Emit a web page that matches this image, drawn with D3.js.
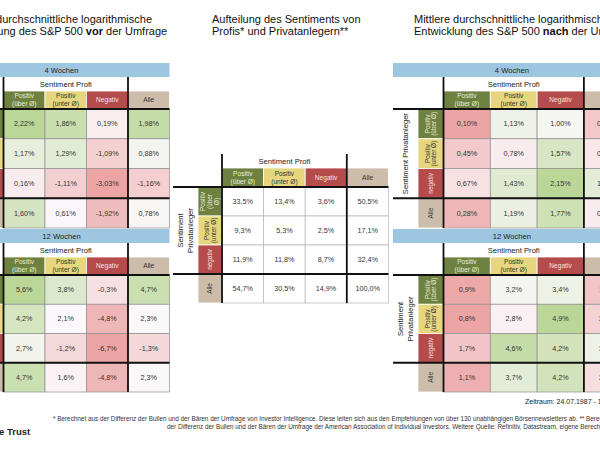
<!DOCTYPE html>
<html><head><meta charset="utf-8">
<script src="https://cdn.jsdelivr.net/npm/d3@7"></script>
<style>
body{margin:0;background:#fff;overflow:hidden;}
svg{display:block;font-family:"Liberation Sans",Arial,Helvetica,sans-serif;}
</style>
</head><body>
<svg id="chart" width="600" height="450"></svg>
<script>
// ---------- DATA ----------
const colLabels = [["Positiv","(über Ø)"],["Positiv","(unter Ø)"],["Negativ"],["Alle"]];
const rowLabels = [["Positiv","(über Ø)"],["Positiv","(unter Ø)"],["negativ"],["Alle"]];
const rowLabelsCenter = [["Positiv","(über","Ø)"],["Positiv","(unter Ø)"],["negativ"],["Alle"]];
const periodLabels = ["4 Wochen","12 Wochen"];
// S&P 500 log. Entwicklung VOR der Umfrage (%)
const vor4w  = [[2.22,1.86,0.19,1.98],[1.17,1.29,-1.09,0.88],[0.16,-1.11,-3.03,-1.16],[1.60,0.61,-1.92,0.78]];
const vor12w = [[5.6,3.8,-0.3,4.7],[4.2,2.1,-4.8,2.3],[2.7,-1.2,-6.7,-1.3],[4.7,1.6,-4.8,2.3]];
// Aufteilung des Sentiments (%)
const split  = [[33.5,13.4,3.6,50.5],[9.3,5.3,2.5,17.1],[11.9,11.8,8.7,32.4],[54.7,30.5,14.9,100.0]];
// S&P 500 log. Entwicklung NACH der Umfrage (%)
const nach4w  = [[0.10,1.13,1.00,0.44],[0.45,0.78,1.57,0.72],[0.67,1.43,2.15,1.34],[0.28,1.19,1.77,0.78]];
const nach12w = [[0.9,3.2,3.4,1.7],[0.8,2.8,4.9,2.0],[1.7,4.6,4.2,3.4],[1.1,3.7,4.2,2.3]];

// ---------- STYLE ----------
const FONT_DARK = "#333";
const headFill = ["#6e8140","#e7d67d","#b64b4b","#cdbcaa"];
const headText = ["#e9ecdc","#333","#f6e2e2","#333"];
const BLUE = "#9dc6e0";
const loc = d3.formatLocale({decimal:",",thousands:".",grouping:[3],currency:["","€"],minus:"-"});
const f2 = v => loc.format(".2f")(v) + "%";
const f1 = v => loc.format(".1f")(v) + "%";

function heat(values){
  const flat = values.flat();
  const [mn,mx] = d3.extent(flat);
  const md = d3.median(flat);
  return d3.scaleLinear().domain([mn,md,mx]).range(["#eca4a4","#fbf8fb","#bad797"]).interpolate(d3.interpolateRgb);
}

const svg = d3.select("#chart");

function multiLine(g, lines, spacing, size, color){
  const n = lines.length;
  lines.forEach((t,i)=>{
    g.append("text").attr("x",0).attr("y",(i-(n-1)/2)*spacing + size*0.35)
      .attr("text-anchor","middle").attr("font-size",size).attr("fill",color).text(t);
  });
}

function drawTable(o){
  const g = svg.append("g");
  const xRH = o.x0 + o.labelW;
  const xD0 = xRH + o.rowHeadW;
  const xEnd = xD0 + 4*o.colW;
  const xs = d3.scaleBand().domain(d3.range(4)).range([xD0,xEnd]);
  const ys = d3.scaleBand().domain(d3.range(4)).range([o.yRow0,o.yRowEnd]);

  if(o.bar){
    g.append("rect").attr("x",o.x0).attr("y",o.bar[0]).attr("width",xEnd-o.x0).attr("height",o.bar[1]-o.bar[0]).attr("fill",BLUE);
    g.append("text").attr("x",(o.x0+xEnd)/2).attr("y",(o.bar[0]+o.bar[1])/2+2.8)
      .attr("text-anchor","middle").attr("font-size",7.6).attr("fill","#222").text(o.barLabel);
  }
  // Sentiment Profi
  g.append("text").attr("x",(xD0+xs(3))/2).attr("y",o.ySP+ (o.yHead-o.ySP)/2 + 2.8)
    .attr("text-anchor","middle").attr("font-size",7.6).attr("fill","#222").text("Sentiment Profi");
  // column headers
  colLabels.forEach((lab,i)=>{
    g.append("rect").attr("x",xs(i)).attr("y",o.yHead).attr("width",xs.bandwidth()).attr("height",o.yRow0-o.yHead)
      .attr("fill",headFill[i]).attr("stroke","#fff").attr("stroke-width",0.8);
    const tg = g.append("g").attr("transform",`translate(${xs(i)+xs.bandwidth()/2},${(o.yHead+o.yRow0)/2})`);
    multiLine(tg, lab, 8, 6.6, headText[i]);
  });
  // row headers
  o.rowLabels.forEach((lab,i)=>{
    g.append("rect").attr("x",xRH).attr("y",ys(i)).attr("width",o.rowHeadW).attr("height",ys.bandwidth())
      .attr("fill",headFill[i]).attr("stroke","#fff").attr("stroke-width",0.8);
    const tg = g.append("g").attr("transform",`translate(${xRH+o.rowHeadW/2},${ys(i)+ys.bandwidth()/2}) rotate(-90)`);
    multiLine(tg, lab, 6.8, 6.4, headText[i]);
  });
  // Sentiment Privatanleger label
  const lg = g.append("g").attr("transform",`translate(${o.x0+o.labelW/2},${(o.yRow0+ys(3))/2}) rotate(-90)`);
  multiLine(lg, o.privLines, 9.5, 7.6, "#222");
  // data cells
  const col = o.values && o.heat ? heat(o.values) : null;
  o.values.forEach((row,r)=>{
    row.forEach((v,c)=>{
      g.append("rect").attr("x",xs(c)).attr("y",ys(r)).attr("width",xs.bandwidth()).attr("height",ys.bandwidth())
        .attr("fill",col ? col(v) : "#fff").attr("stroke",col ? "#8f8f8f" : "#b5b5b5").attr("stroke-width",0.7);
      g.append("text").attr("x",xs(c)+xs.bandwidth()/2).attr("y",ys(r)+ys.bandwidth()/2+2.5)
        .attr("text-anchor","middle").attr("font-size",7.2).attr("fill",FONT_DARK).text(o.fmt(v));
    });
  });
  // black structure lines
  const bl = (x1,y1,x2,y2)=>g.append("line").attr("x1",x1).attr("y1",y1).attr("x2",x2).attr("y2",y2)
    .attr("stroke","#111").attr("stroke-width",1.8);
  bl(xD0,o.ySP,xD0,o.yRowEnd);
  bl(xs(3),o.ySP,xs(3),o.yRowEnd);
  bl(o.x0,o.yRow0,xEnd,o.yRow0);
  bl(o.x0,ys(3),xEnd,ys(3));
}

// ---------- Titles ----------
function title(x, parts1, parts2){
  [[parts1,22.5],[parts2,34.5]].forEach(([parts,y])=>{
    const t = svg.append("text").attr("x",x).attr("y",y).attr("font-size",11).attr("fill","#111");
    parts.forEach(p=>t.append("tspan").attr("font-weight",p[1]?"bold":"normal").text(p[0]));
  });
}
title(-43,[["Mittlere durchschnittliche logarithmische",0]],[["Entwicklung des S&P 500 ",0],["vor",1],[" der Umfrage",0]]);
title(212,[["Aufteilung des Sentiments von",0]],[["Profis* und Privatanlegern**",0]]);
title(414,[["Mittlere durchschnittliche logarithmische",0]],[["Entwicklung des S&P 500 ",0],["nach",1],[" der Umfrage",0]]);

// ---------- Tables ----------
const left = {x0:-46.5,labelW:25,rowHeadW:25,colW:41.5};
const right = {x0:393,labelW:25,rowHeadW:25.5,colW:46.8};
const blk4 = {bar:[63,77],ySP:77,yHead:91,yRow0:109,yRowEnd:228};
const blk12 = {bar:[229,243],ySP:243,yHead:257,yRow0:275,yRowEnd:392};

drawTable({...left,...blk4,barLabel:periodLabels[0],values:vor4w,fmt:f2,heat:true,rowLabels,privLines:["Sentiment Privatanleger"]});
drawTable({...left,...blk12,barLabel:periodLabels[1],values:vor12w,fmt:f1,heat:true,rowLabels,privLines:["Sentiment","Privatanleger"]});
drawTable({x0:173,labelW:25,rowHeadW:24,colW:41.6,bar:null,ySP:154,yHead:168,yRow0:187,yRowEnd:303,values:split,fmt:f1,heat:false,rowLabels:rowLabelsCenter,privLines:["Sentiment","Privatanleger"]});
drawTable({...right,...blk4,barLabel:periodLabels[0],values:nach4w,fmt:f2,heat:true,rowLabels,privLines:["Sentiment Privatanleger"]});
drawTable({...right,...blk12,barLabel:periodLabels[1],values:nach12w,fmt:f1,heat:true,rowLabels,privLines:["Sentiment","Privatanleger"]});

// ---------- Footer ----------
svg.append("text").attr("x",525).attr("y",404).attr("font-size",7).attr("fill","#222").text("Zeitraum: 24.07.1987 - 13.10.2023");
svg.append("text").attr("x",53).attr("y",421).attr("font-size",6.35).attr("fill","#333")
  .text("* Berechnet aus der Differenz der Bullen und der Bären der Umfrage von Investor Intelligence. Diese leiten sich aus den Empfehlungen von über 130 unabhängigen Börsennewsletters ab. ** Berechnet aus");
svg.append("text").attr("x",167).attr("y",429).attr("font-size",6.35).attr("fill","#333")
  .text("der Differenz der Bullen und der Bären der Umfrage der American Association of Individual Investors. Weitere Quelle: Refinitiv, Datastream, eigene Berechnungen.");
svg.append("text").attr("x",-1).attr("y",435).attr("font-size",9.5).attr("font-weight","bold").attr("fill","#222").text("e Trust");
</script>
</body></html>
